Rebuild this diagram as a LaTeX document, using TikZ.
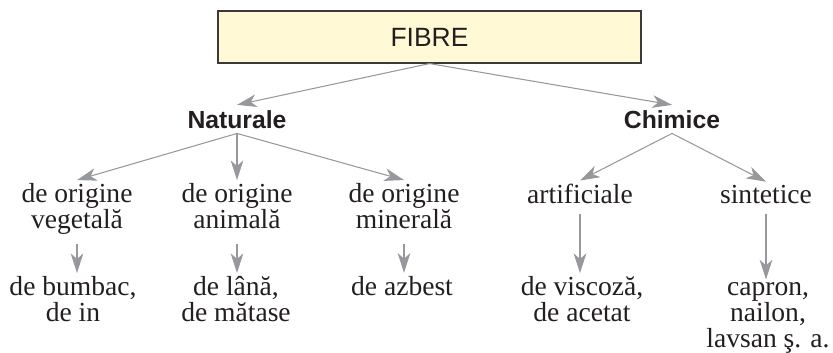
\documentclass[tikz,border=0pt]{standalone}
\usepackage{fontspec}
\usepackage{xcolor}
\setmainfont{Liberation Serif}
\newfontfamily\fibresans{Liberation Sans}
\usetikzlibrary{arrows.meta}
\definecolor{boxfill}{HTML}{FFF9D6}
\definecolor{boxline}{HTML}{3A3A3A}
\definecolor{arrowgray}{HTML}{97989B}
\definecolor{inkblack}{HTML}{231F20}
\tikzset{fibrebox/.style={draw=boxline,fill=boxfill,line width=0.8pt,
minimum width=10.575cm,minimum height=1.3cm,text=inkblack,
font=\fibresans\fontsize{18.8}{22}\selectfont},
kind/.style={anchor=base,inner sep=3.5pt,text=inkblack,
font=\fibresans\bfseries\fontsize{17.6}{21}\selectfont},
sort/.style={anchor=base,align=center,inner sep=2pt,text=inkblack,
execute at begin node=\strut,font=\fontsize{19.6}{18.3}\selectfont},
arr/.style={draw=arrowgray,line width=0.75pt,
-{Stealth[length=14pt,width=9pt,inset=4pt]}}}

\begin{document}
\begin{tikzpicture}
    \useasboundingbox (0,0) rectangle (20.825,-8.8);

    % Top box
    \node[fibrebox] (fibre) at (10.7375,-0.925) {FIBRE};

    % Two kinds
    \node[kind] (nat) at (5.925,-3.2) {Naturale};
    \node[kind] (chim) at (16.8,-3.2) {Chimice};

    % Origins (base = last line)
    \node[sort] (veg) at (1.925,-5.7) {de origine\\vegetală};
    \node[sort] (anim) at (5.925,-5.7) {de origine\\animală};
    \node[sort] (miner) at (10.1,-5.7) {de origine\\minerală};
    \node[sort] (art) at (14.5,-5.075) {artificiale};
    \node[sort] (sint) at (19.15,-5.075) {sintetice};

    % Examples
    \node[sort] (bumb) at (1.825,-8.025) {de bumbac,\\de in};
    \node[sort] (lana) at (5.9,-8.025) {de lână,\\de mătase};
    \node[sort] (azb) at (10.05,-7.375) {de azbest};
    \node[sort] (visc) at (14.55,-8.025) {de viscoză,\\de acetat};
    \node[sort] (capr) at (19.2,-8.675) {capron,\\nailon,\\lavsan ş. a.};

    % Arrows
    \draw[arr] (fibre.south) -- (nat.north);
    \draw[arr] (fibre.south) -- (chim.north);
    \foreach \to in {veg,anim,miner} \draw[arr] (nat.south) -- (\to.north);
    \foreach \to in {art,sint} \draw[arr] (chim.south) -- (\to.north);

    \foreach \from/\to in {veg/bumb,anim/lana,miner/azb}
        \draw[arr] ([yshift=-0.14cm]\from.south) -- (\from.south |- \to.north);
    \draw[arr] (art.south) -- (art.south |- visc.north);
    \draw[arr] (sint.south) -- (sint.south |- capr.north);
\end{tikzpicture}
\end{document}
